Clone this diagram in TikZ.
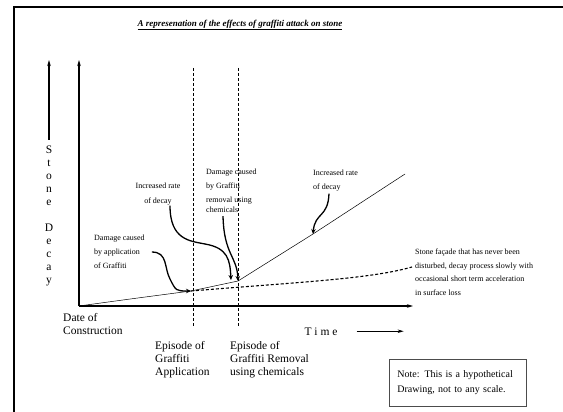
\documentclass[tikz,border=0pt]{standalone}
\usepackage{fontspec}
\setmainfont{Liberation Serif}
\usetikzlibrary{arrows.meta}

\begin{document}
\begin{tikzpicture}[x=1pt,y=-1pt,
  axis/.style={line width=1.1pt,-{Stealth[length=6pt,width=3.5pt]}},
  pointer/.style={line width=1.3pt,-{Stealth[length=5pt,width=4.5pt]}},
  episode/.style={line width=0.9pt,dash pattern=on 3pt off 2pt},
  small/.style={font=\fontsize{8}{14}\selectfont,inner sep=0pt,align=left,anchor=north west},
  big/.style={font=\fontsize{11.5}{13}\selectfont,inner sep=0pt,align=left,anchor=north west}]
\useasboundingbox (0,0) rectangle (563,412);
% frame, only top and left edge show
\draw[line width=2.5pt] (14,412) -- (14,7) -- (563,7);
\node[font=\fontsize{9}{11}\selectfont\bfseries\itshape] (title) at (240,25) {\underline{A represenation of the effects of graffiti attack on stone}};

% axes
\coordinate (o) at (79,306);
\draw[axis] (o) -- (79,60);
\draw[axis] (o) -- (413,306);
\node[big,anchor=north,align=center] (decay) at (49,146) {S\\t\\o\\n\\e\\[13pt]D\\e\\c\\a\\y};
\draw[axis] ([yshift=6pt]decay.north) -- (49,60);
\node[big] (date) at (63,313) {Date of\\Construction};
\node[font=\fontsize{11.5}{13}\selectfont,inner sep=0pt,anchor=base] (time) at (321,335) {T i m e};
\draw[axis] ([xshift=19pt]time.east) -- ([xshift=66pt]time.east);

\foreach \x in {193,238} % edit here for the episodes
\draw[episode] (\x,68) -- (\x,327);
\node[big] (epapp) at (155,341) {Episode of\\Graffiti\\Application};
\node[big] (eprem) at (230,341) {Episode of\\Graffiti Removal\\using chemicals};

% decay curves
\coordinate (app) at (191,291);
\coordinate (rem) at (238,281);
\coordinate (fast) at (313,234);
\coordinate (top) at (405,174);
\coordinate (calm) at (412,267);
\draw[line width=0.5pt] (o) .. controls (130,299) .. (app) -- (rem) -- (fast) -- (top);
\draw[line width=1.1pt,dash pattern=on 3pt off 2pt] (app) .. controls (300,282) and (370,279) .. (calm);

% labels
\node[small] (damapp) at (94,235) {Damage caused\\by application\\of Graffiti};
\node[small,align=center,anchor=north,font=\fontsize{8}{15}\selectfont] (incr1) at (158,183) {Increased rate\\of decay};
\node[small] (damrem) at (206,169) {Damage caused\\by Graffiti\\removal using\\[-4pt]chemicals};
\node[small] (incr2) at (313,170) {Increased rate\\of decay};
\node[small,font=\fontsize{8}{13.5}\selectfont] (facade) at (415,249) {Stone façade that has never been\\disturbed, decay process slowly with\\occasional short term acceleration\\in surface loss};

\coordinate (remtip) at (231,280);
\draw[pointer] ([xshift=7pt]damapp.east) .. controls (168,252) and (164,268) .. (170,279) .. controls (176,291) .. (app);
\draw[pointer] ([xshift=12pt]incr1.south) .. controls (170,240) and (190,241) .. (205,244) .. controls (228,248) and (230,260) .. (remtip);
\draw[pointer] ([xshift=17pt,yshift=-3pt]damrem.south west) .. controls (224,255) and (237,256) .. (rem);
\draw[pointer] ([xshift=16pt,yshift=-2pt]incr2.south west) .. controls (328,218) and (315,212) .. (fast);

% note
\node[draw=black!70,line width=0.7pt,anchor=north west,minimum width=137pt,minimum height=47pt,
  inner xsep=8pt,text width=121pt,align=left,font=\fontsize{10}{15}\selectfont] (note) at (389,359)
  {Note: This is a hypothetical\\Drawing, not to any scale.};
\end{tikzpicture}
\end{document}
